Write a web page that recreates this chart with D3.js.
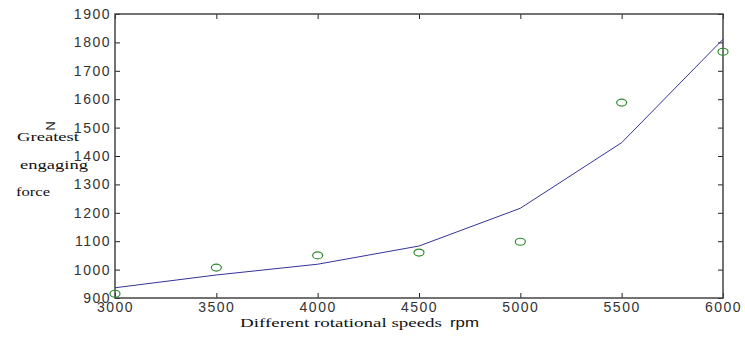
<!DOCTYPE html>
<html>
<head>
<meta charset="utf-8">
<script src="https://cdn.jsdelivr.net/npm/d3@7"></script>
<style>
  body { margin: 0; background: #fff; }
  .tick text { font-family: "Liberation Sans", Arial, sans-serif; font-size: 14px; letter-spacing: 1.5px; fill: #333; }
</style>
</head>
<body>
<div id="chart"></div>
<script>
// rotational speed (rpm)
const speeds = [3000, 3500, 4000, 4500, 5000, 5500, 6000];
// measured greatest engaging force (N) - circles
const measured = [915, 1007, 1050, 1060, 1098, 1588, 1767];
// fitted curve (N) - line
const fitted = [936, 981, 1019, 1083, 1216, 1447, 1811];
const xTicks = [3000, 3500, 4000, 4500, 5000, 5500, 6000];
const yTicks = [900, 1000, 1100, 1200, 1300, 1400, 1500, 1600, 1700, 1800, 1900];

const width = 745, height = 338;
const plotLeft = 115, plotRight = 723, plotTop = 14, plotBottom = 298;

const svg = d3.select('#chart')
    .append('svg')
    .attr('width', width)
    .attr('height', height);

const xScale = d3.scaleLinear().domain([3000, 6000]).range([plotLeft, plotRight]);
const yScale = d3.scaleLinear().domain([900, 1900]).range([plotBottom, plotTop]);

// axes, ticks pointing inward like the original
const styleAxis = g => {
    g.select('.domain').remove();
    g.selectAll('.tick line').attr('stroke', '#222');
};

svg.append('g')
    .attr('transform', `translate(0,${plotBottom})`)
    .call(d3.axisBottom(xScale).tickValues(xTicks).tickSize(-5).tickPadding(4).tickFormat(d3.format('d')))
    .call(styleAxis);

svg.append('g')
    .attr('transform', `translate(0,${plotTop})`)
    .call(d3.axisTop(xScale).tickValues(xTicks).tickSize(-5).tickFormat(''))
    .call(styleAxis);

svg.append('g')
    .attr('transform', `translate(${plotLeft},0)`)
    .call(d3.axisLeft(yScale).tickValues(yTicks).tickSize(-5).tickPadding(4).tickFormat(d3.format('d')))
    .call(styleAxis);

svg.append('g')
    .attr('transform', `translate(${plotRight},0)`)
    .call(d3.axisRight(yScale).tickValues(yTicks).tickSize(-5).tickFormat(''))
    .call(styleAxis);

// box
svg.append('rect')
    .attr('x', plotLeft)
    .attr('y', plotTop)
    .attr('width', plotRight - plotLeft)
    .attr('height', plotBottom - plotTop)
    .attr('fill', 'none')
    .attr('stroke', '#444')
    .attr('stroke-width', 1.5);

// fitted line
const line = d3.line()
    .x((d, i) => xScale(speeds[i]))
    .y(d => yScale(d));

svg.append('path')
    .datum(fitted)
    .attr('d', line)
    .attr('fill', 'none')
    .attr('stroke', '#33339a')
    .attr('stroke-width', 1);

// measured points
svg.selectAll('.dot')
    .data(measured)
    .enter()
    .append('ellipse')
    .attr('class', 'dot')
    .attr('cx', (d, i) => xScale(speeds[i]))
    .attr('cy', d => yScale(d))
    .attr('rx', 5)
    .attr('ry', 3.5)
    .attr('fill', 'none')
    .attr('stroke', '#2f8a2f')
    .attr('stroke-width', 1.2);

// y label: unit rotated, words stacked in serif
svg.append('text')
    .attr('transform', 'translate(49,126) rotate(90)')
    .attr('text-anchor', 'middle')
    .attr('dominant-baseline', 'middle')
    .style('font-family', '"Liberation Sans", Arial, sans-serif')
    .style('font-size', '13px')
    .style('fill', '#222')
    .text('N');

const serif = '"Liberation Serif", "DejaVu Serif", serif';
[['Greatest', 17, 141, 62], ['engaging', 20, 169, 68], ['force', 16, 196, 34]].forEach(([t, x, y, w]) => {
    svg.append('text')
        .attr('x', x)
        .attr('y', y)
        .attr('textLength', w)
        .attr('lengthAdjust', 'spacingAndGlyphs')
        .style('font-family', serif)
        .style('font-size', '13px')
        .style('fill', '#111')
        .text(t);
});

// x label
svg.append('text')
    .attr('x', 240)
    .attr('y', 327)
    .attr('textLength', 202)
    .attr('lengthAdjust', 'spacingAndGlyphs')
    .style('font-family', serif)
    .style('font-size', '13px')
    .style('fill', '#111')
    .text('Different rotational speeds');

svg.append('text')
    .attr('x', 450)
    .attr('y', 327)
    .attr('textLength', 29)
    .attr('lengthAdjust', 'spacingAndGlyphs')
    .style('font-family', '"Liberation Sans", Arial, sans-serif')
    .style('font-size', '13px')
    .style('fill', '#111')
    .text('rpm');
</script>
</body>
</html>
